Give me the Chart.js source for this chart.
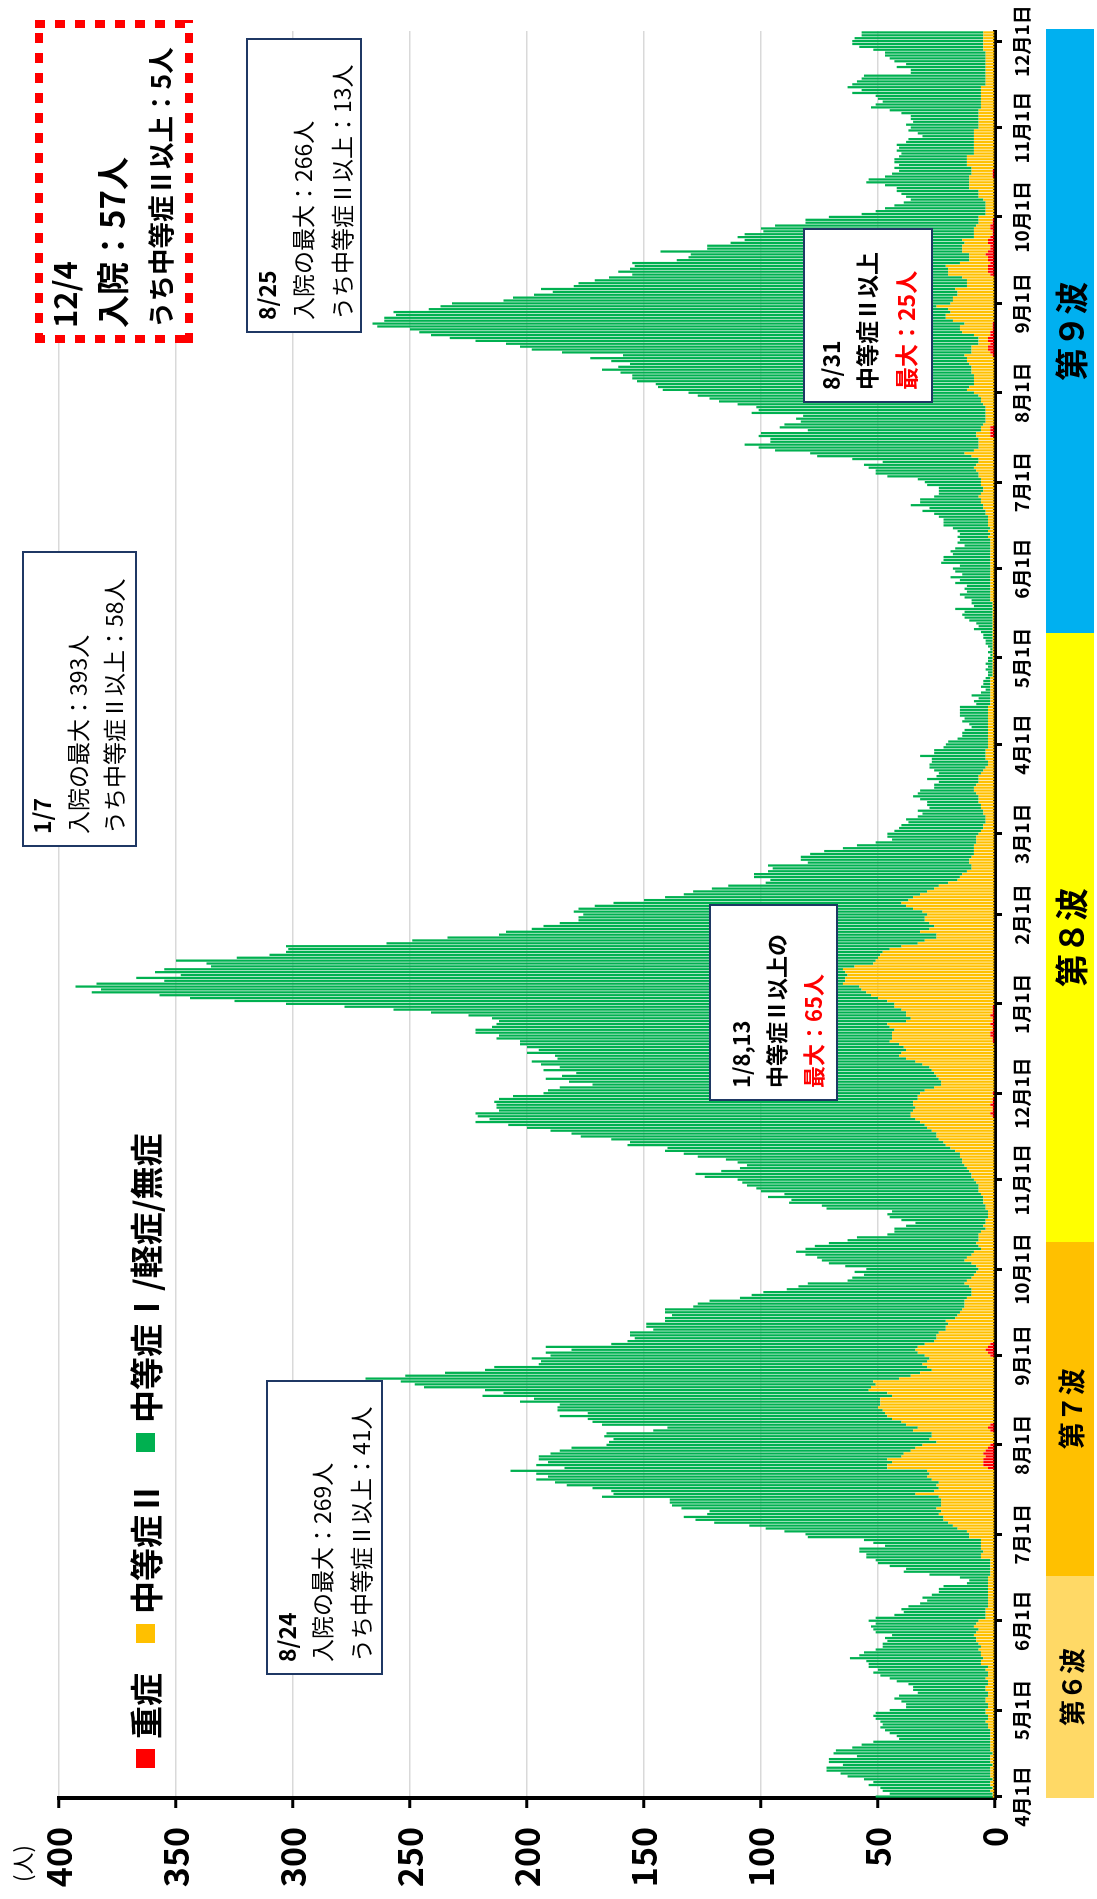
<!DOCTYPE html>
<html lang="ja">
<head>
<meta charset="utf-8">
<title>入院者数の推移</title>
<script src="https://cdn.jsdelivr.net/npm/chart.js@4.4.1/dist/chart.umd.min.js"></script>
<style>
  html, body { margin: 0; padding: 0; background: #fff; width: 1097px; height: 1899px; overflow: hidden; }
  /* the chart is laid out landscape and turned a quarter left, like the source picture */
  #stage {
    position: absolute; left: 0; top: 0; width: 1899px; height: 1097px;
    transform-origin: 0 0; transform: translate(0, 1899px) rotate(-90deg);
    font-family: 'Noto Sans CJK JP', sans-serif; color: #000; background: #fff;
  }
  #chart { position: absolute; left: 0; top: 0; }
  .unit { position: absolute; left: 17px; top: 7px; font-size: 22px; line-height: 28px; }
  .legend { position: absolute; left: 131px; top: 124px; display: flex; align-items: center;
    font-size: 33px; font-weight: bold; line-height: 42px; white-space: nowrap; }
  .legend .item { display: flex; align-items: center; margin-right: 30px; }
  .legend .sw { width: 19px; height: 19px; margin-right: 10px; }
  .note { position: absolute; background: #fff; border: 2px solid #1F3864; box-sizing: border-box; white-space: nowrap; }
  .note .ln { position: absolute; left: 11px; transform: translateY(-50%); line-height: 1.2; }
  .b { font-weight: bold; }
  .r { color: #FF0000; }
  .hot { position: absolute; left: 1556px; top: 35px; width: 323px; height: 158px; background:
      repeating-linear-gradient(90deg, #FF0000 0 10px, transparent 10px 20px) left top / 100% 8px no-repeat,
      repeating-linear-gradient(90deg, #FF0000 0 10px, transparent 10px 20px) left bottom / 100% 8px no-repeat,
      repeating-linear-gradient(180deg, #FF0000 0 10px, transparent 10px 20px) left top / 8px 100% no-repeat,
      repeating-linear-gradient(180deg, #FF0000 0 10px, transparent 10px 20px) right top / 8px 100% no-repeat,
      #fff; white-space: nowrap; font-weight: bold; }
  .hot .ln { position: absolute; left: 15px; transform: translateY(-50%); line-height: 1.2; }
  .wave { position: absolute; top: 1046px; height: 48px; display: flex; align-items: center;
    justify-content: center; font-weight: bold; white-space: nowrap; overflow: hidden; }
</style>
</head>
<body>
<div id="stage">
  <canvas id="chart" width="1899" height="1097"></canvas>
  <div class="unit">(人)</div>
  <div class="legend" id="legend"></div>

  <div class="note" style="left:224px;top:266px;width:295px;height:117px;font-size:23px">
    <div class="ln b" style="top:19px">8/24</div>
    <div class="ln" style="top:54px">入院の最大：269人</div>
    <div class="ln" style="top:93px">うち中等症Ⅱ以上：41人</div>
  </div>
  <div class="note" style="left:1052px;top:22px;width:296px;height:115px;font-size:23px">
    <div class="ln b" style="top:18px">1/7</div>
    <div class="ln" style="top:54px">入院の最大：393人</div>
    <div class="ln" style="top:90px">うち中等症Ⅱ以上：58人</div>
  </div>
  <div class="note" style="left:1566px;top:246px;width:295px;height:116px;font-size:23px">
    <div class="ln b" style="top:19px">8/25</div>
    <div class="ln" style="top:55px">入院の最大：266人</div>
    <div class="ln" style="top:94px">うち中等症Ⅱ以上：13人</div>
  </div>
  <div class="note" style="left:798px;top:709px;width:197px;height:129px;font-size:22px">
    <div class="ln b" style="top:29px">1/8,13</div>
    <div class="ln b" style="top:64px">中等症Ⅱ以上の</div>
    <div class="ln b r" style="top:101px">最大：65人</div>
  </div>
  <div class="note" style="left:1496px;top:803px;width:175px;height:130px;font-size:23px">
    <div class="ln b" style="top:26px">8/31</div>
    <div class="ln b" style="top:62px">中等症Ⅱ以上</div>
    <div class="ln b r" style="top:101px">最大：25人</div>
  </div>
  <div class="hot">
    <div class="ln" style="top:29px;font-size:31px">12/4</div>
    <div class="ln" style="top:77px;font-size:33px">入院：57人</div>
    <div class="ln" style="top:125px;font-size:26.5px">うち中等症Ⅱ以上：5人</div>
  </div>
</div>

<script>
// daily inpatients from 2022-04-01 to 2023-12-04, one row per month
var hospitalized = [].concat(
  [51,45,48,49,54,52,56,63,66,72,72,65,71,71,59,69,68,61,57,52,41,42,45,47,49,48,49,51,52,51],
  [45,38,38,40,43,41,33,35,35,37,42,45,49,52,50,54,54,55,62,58,56,51,48,48,46,47,44,51,52,53,51],
  [54,51,43,39,40,37,32,29,31,27,24,24,22,12,11,15,28,39,38,45,50,51,55,55,58,58,47,52,56,80],
  [81,90,98,105,120,128,133,123,122,134,138,139,139,168,163,164,172,183,188,196,191,196,207,184,196,191,195,195,190,186,181],
  [166,165,163,167,166,146,140,168,172,174,186,174,187,187,186,203,197,219,210,218,244,248,254,269,252,235,218,214,195,194,198],
  [190,192,181,192,164,157,154,156,156,146,149,149,141,141,138,141,141,129,127,122,109,104,99,89,84,80,63,61,56,60],
  [55,64,71,74,76,81,85,81,77,71,63,59,46,43,43,38,34,40,45,46,44,72,74,88,87,97,90,100,102,106,108],
  [110,124,128,117,109,106,110,115,127,133,141,140,157,156,164,177,181,190,200,208,222,216,221,222,212,213,213,214,212,206],
  [193,191,186,172,182,192,185,179,193,186,194,198,187,188,200,195,200,203,203,213,212,222,222,215,213,212,215,225,241,257,278],
  [303,325,344,357,386,382,393,384,355,367,348,359,355,335,337,350,324,310,303,302,303,260,249,234,212,209,198,193,186,178,178],
  [176,180,178,171,163,150,141,133,129,121,114,98,96,103,103,97,95,97,80,83,83,79,73,65,59,51,44,46],
  [46,43,41,40,37,38,33,31,33,28,29,29,32,35,33,32,26,26,24,29,25,24,26,28,28,27,27,32,26,26,22],
  [21,20,16,14,14,13,10,11,14,13,15,15,15,15,8,9,7,10,6,4,6,5,5,4,3,3,4,3,4,3],
  [3,2,3,2,3,4,4,5,5,6,9,7,8,11,13,14,13,17,9,10,10,13,15,12,13,12,17,15,19,14,17],
  [18,15,23,22,22,18,19,17,13,16,15,16,15,16,18,22,22,22,24,26,31,28,36,32,32,26,24,24,24,29],
  [30,33,46,51,51,54,56,48,61,76,79,94,101,107,96,96,101,100,80,92,90,83,85,82,104,101,102,110,118,122,127],
  [131,142,144,145,153,155,155,160,168,161,156,164,173,159,185,198,203,209,222,233,241,246,250,264,266,261,261,256,257,242,237],
  [232,210,206,197,189,194,180,178,171,165,155,161,156,154,155,136,131,130,143,123,123,113,107,110,107,99,100,94,81,81],
  [71,57,51,47,43,39,36,38,40,42,42,47,55,54,47,44,41,43,41,43,43,41,40,42,41,42,38,37,31,33,37],
  [36,38,35,36,36,40,45,53,51,48,50,51,61,57,63,61,59,57,56,36,36,42,38,43,45,47,47,52,58,61],
  [61,60,57,57]
);

// 中等症Ⅱ
var moderate2 = [].concat(
  [1,1,2,1,2,2,1,2,2,2,2,1,2,2,2,1,2,2,2,2,2,2,2,2,3,3,4,3,3,4],
  [4,3,3,4,4,3,3,4,4,3,3,4,3,3,4,3,6,6,5,6,6,7,6,7,8,8,9,8,7,9,8],
  [7,4,4,4,4,3,3,3,3,3,3,3,3,3,3,3,2,2,2,2,2,2,6,6,5,6,6,6,6,11],
  [11,12,16,18,20,22,22,24,23,25,23,23,23,24,34,26,24,25,24,27,29,28,29,43,41,39,41,36,34,32,31],
  [29,25,28,27,27,33,30,36,40,44,46,47,48,50,49,49,49,44,46,54,53,51,52,41,36,32,27,29,31,29,28],
  [28,30,30,30,28,26,25,25,24,21,21,20,21,17,16,15,14,13,13,13,12,10,10,10,11,13,12,10,9,8],
  [7,8,10,13,12,10,9,6,7,8,7,7,7,6,4,5,4,4,3,3,3,4,4,5,5,5,6,7,7,7,8],
  [9,10,10,11,12,13,14,14,15,15,17,19,21,22,24,25,25,27,29,30,32,34,35,34,34,33,33,34,32,33],
  [31,30,26,23,23,24,25,26,27,28,31,34,38,41,40,38,39,41,44,43,42,42,42,44,44,37,35,36,37,39,42],
  [43,46,50,53,55,57,58,65,64,64,63,64,65,60,52,51,50,49,48,45,40,33,30,25,25,32,28,26,28,30,30],
  [29,31,35,38,40,37,35,32,29,26,24,20,16,15,14,12,10,10,11,11,10,9,9,9,9,8,8,8],
  [7,6,5,5,4,4,4,5,5,6,6,7,7,7,8,9,9,8,7,7,7,6,5,4,3,3,4,4,4,4,3],
  [3,3,3,3,3,3,3,3,3,3,3,3,3,3,2,2,2,2,2,2,2,2,2,2,1,1,1,1,1,1],
  [1,1,1,1,1,1,1,1,1,1,1,1,1,1,1,1,1,1,1,1,2,2,2,2,2,2,2,2,2,2,2],
  [2,2,2,2,2,2,2,2,2,2,2,3,2,3,2,3,3,3,3,4,4,5,5,6,6,7,6,5,5,6],
  [6,6,7,7,8,9,8,7,7,10,13,9,7,7,7,7,6,6,4,4,5,4,4,4,4,4,4,5,6,6,7],
  [9,12,11,9,9,9,9,10,10,10,11,12,12,12,8,7,7,5,4,4,7,12,14,14,12,18,21,21,19,20,25],
  [19,18,18,16,16,17,12,12,12,14,18,17,17,18,13,8,8,7,11,12,12,10,11,7,8,8,7,6,6,6],
  [7,4,4,4,4,4,5,7,7,7,11,11,11,11,10,9,9,10,12,12,12,12,9,9,9,9,9,9,9,9,9],
  [7,7,7,7,7,7,7,6,6,6,6,6,6,6,6,4,4,4,4,4,4,4,4,4,4,4,4,5,5,5],
  [5,5,5,5]
);

// 重症
var severe = [].concat(
  [0,0,0,0,0,0,0,0,0,0,0,0,0,0,0,0,0,0,0,0,0,0,0,0,0,0,0,0,0,0],
  [0,0,0,0,0,0,0,0,0,0,0,0,0,0,0,0,0,0,0,0,0,0,0,0,0,0,0,0,0,0,0],
  [0,0,0,0,0,0,0,0,0,0,0,0,0,0,0,0,0,0,0,0,0,0,0,0,0,0,0,0,0,0],
  [0,0,0,0,0,0,0,0,0,0,0,0,0,0,0,0,0,0,0,0,0,0,0,3,5,5,5,4,5,4,3],
  [2,0,0,0,0,2,3,2,0,0,0,0,0,0,0,0,0,0,0,0,0,0,0,0,0,0,0,0,0,0,0],
  [2,3,4,3,2,0,0,0,0,0,0,0,0,0,0,0,0,0,0,0,0,0,0,0,0,0,0,0,0,0],
  [0,0,0,0,0,0,0,0,0,0,0,0,0,0,0,0,0,0,0,0,0,0,0,0,0,0,0,0,0,0,0],
  [0,0,0,0,0,0,0,0,0,0,0,0,0,0,0,0,0,0,0,0,0,0,1,2,1,1,2,1,1,0],
  [1,0,0,0,0,0,0,0,0,0,0,0,0,0,0,0,0,0,1,1,2,2,1,1,2,1,1,2,1,1,1],
  [0,0,0,0,0,0,0,0,0,0,0,0,0,0,0,0,0,0,0,0,0,0,0,0,0,0,0,0,0,0,0],
  [0,0,0,0,0,0,0,0,0,0,0,0,0,0,0,0,0,0,0,0,0,0,0,0,0,0,0,0],
  [0,0,0,0,0,0,0,0,0,0,0,0,0,0,0,0,0,0,0,0,0,0,0,0,0,0,0,0,0,0,0],
  [0,0,0,0,0,0,0,0,0,0,0,0,0,0,0,0,0,0,0,0,0,0,0,0,0,0,0,0,0,0],
  [0,0,0,0,0,0,0,0,0,0,0,0,0,0,0,0,0,0,0,0,0,0,0,0,0,0,0,0,0,0,0],
  [0,0,0,0,0,0,0,0,0,0,0,0,0,0,0,0,0,0,0,0,0,0,0,0,0,0,0,0,0,0],
  [0,0,0,0,0,0,0,0,0,0,0,0,0,0,0,0,2,2,2,2,0,0,0,0,0,0,0,0,0,0,0],
  [0,0,0,0,0,0,0,0,0,0,0,0,0,1,2,3,3,2,3,3,2,2,1,1,1,0,0,0,0,0,0],
  [0,0,0,0,0,0,0,0,0,0,2,3,3,3,2,3,3,4,3,2,2,3,3,2,1,1,2,2,1,1],
  [0,0,0,0,0,0,0,0,0,0,0,0,0,0,1,1,1,0,0,0,0,0,0,0,0,0,0,0,0,0,0],
  [0,0,0,0,0,0,0,0,0,0,0,0,0,0,0,0,0,0,0,0,0,0,0,0,0,0,0,0,0,0],
  [0,0,0,0]
);

var firstDay = '2022-04-01';
var yTicks = [0, 50, 100, 150, 200, 250, 300, 350, 400];

var seriesNames  = ['重症', '中等症Ⅱ', '中等症Ⅰ/軽症/無症'];
var seriesColors = ['#FF0000', '#FFC000', '#00B050'];

var waveNames  = ['第６波', '第７波', '第８波', '第９波'];
var waveStarts = ['2022-04-01', '2022-06-17', '2022-10-11', '2023-05-10'];
var waveColors = ['#FFD966', '#FFC000', '#FFFF00', '#00B0F0'];
var waveFont   = [26, 27, 33, 33];

/* categories: one per day */
var t0 = Date.parse(firstDay + 'T00:00:00Z');
var dayDates = hospitalized.map(function(_, i) { return new Date(t0 + i * 86400000); });
var dayLabels = dayDates.map(function(d) { return d.toISOString().slice(0, 10); });

// the light-green part of each bar is what is left after the severe and 中等症Ⅱ parts
var mild = hospitalized.map(function(v, i) { return v - moderate2[i] - severe[i]; });

function isMonthStart(i) { return !!dayDates[i] && dayDates[i].getUTCDate() === 1; }

var chart = new Chart(document.getElementById('chart'), {
  type: 'bar',
  data: {
    labels: dayLabels,
    datasets: [
      { label: seriesNames[0], data: severe,    backgroundColor: seriesColors[0] },
      { label: seriesNames[1], data: moderate2, backgroundColor: seriesColors[1] },
      { label: seriesNames[2], data: mild,      backgroundColor: seriesColors[2] }
    ]
  },
  options: {
    responsive: false,
    animation: false,
    events: [],
    datasets: { bar: { barPercentage: 0.78, categoryPercentage: 1, borderWidth: 0 } },
    layout: { padding: { top: 59, right: 31, left: 0, bottom: 0 } },
    plugins: { legend: { display: false }, tooltip: { enabled: false } },
    scales: {
      x: {
        stacked: true,
        offset: true,
        border: { color: '#000', width: 4 },
        grid: {
          offset: false,
          drawOnChartArea: false,
          tickLength: 7,
          tickWidth: 3,
          tickColor: function(c) { return isMonthStart(c.index) ? '#000' : 'rgba(0,0,0,0)'; }
        },
        ticks: {
          autoSkip: false, maxRotation: 0, minRotation: 0, padding: 8,
          color: '#000',
          font: { family: "'Noto Sans CJK JP', sans-serif", size: 19, weight: 'bold' },
          callback: function(v, i) {
            return isMonthStart(i) ? (dayDates[i].getUTCMonth() + 1) + '月1日' : '';
          }
        },
        afterFit: function(s) { s.height = 102; }
      },
      y: {
        stacked: true,
        min: yTicks[0],
        max: yTicks[yTicks.length - 1],
        border: { color: '#000', width: 4 },
        grid: { color: '#D9D9D9', lineWidth: 1.5, tickLength: 10, tickWidth: 3, tickColor: '#000' },
        ticks: {
          stepSize: yTicks[1] - yTicks[0], padding: 19, color: '#000',
          font: { family: "'Noto Sans CJK JP', sans-serif", size: 34, weight: 'bold' }
        },
        afterFit: function(s) { s.width = 101; }
      }
    }
  }
});

/* legend, same order as the stack */
var leg = document.getElementById('legend');
leg.innerHTML = seriesNames.map(function(n, i) {
  return '<div class="item"><div class="sw" style="background:' + seriesColors[i] + '"></div>' + n + '</div>';
}).join('');

/* wave bands under the date axis, placed on the category scale */
var xs = chart.scales.x;
var pitch = (xs.right - xs.left) / dayLabels.length;
var stage = document.getElementById('stage');
waveStarts.forEach(function(s, i) {
  var a = dayLabels.indexOf(s);
  var b = i + 1 < waveStarts.length ? dayLabels.indexOf(waveStarts[i + 1]) : dayLabels.length;
  var x0 = i === 0 ? xs.left : xs.getPixelForValue(a) - pitch / 2;
  var x1 = b >= dayLabels.length ? xs.right + 2 : xs.getPixelForValue(b) - pitch / 2;
  var el = document.createElement('div');
  el.className = 'wave';
  el.style.left = x0 + 'px';
  el.style.width = (x1 - x0) + 'px';
  el.style.background = waveColors[i];
  el.style.fontSize = waveFont[i] + 'px';
  el.textContent = waveNames[i];
  stage.appendChild(el);
});
</script>
</body>
</html>
